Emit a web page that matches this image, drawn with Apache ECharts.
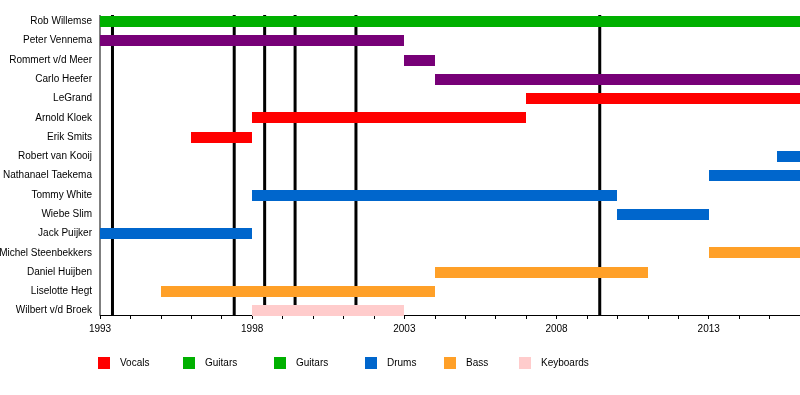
<!DOCTYPE html>
<html>
<head>
<meta charset="utf-8">
<script src="https://cdn.jsdelivr.net/npm/echarts@6/dist/echarts.min.js"></script>
<style>html,body{margin:0;padding:0;background:#fff}#chart{width:800px;height:395px}</style>
</head>
<body>
<div id="chart"></div>
<script>
// ---- data ----
const members = ['Rob Willemse','Peter Vennema','Rommert v/d Meer','Carlo Heefer','LeGrand','Arnold Kloek','Erik Smits','Robert van Kooij','Nathanael Taekema','Tommy White','Wiebe Slim','Jack Puijker','Michel Steenbekkers','Daniel Huijben','Liselotte Hegt','Wilbert v/d Broek'];
const vocals = [['LeGrand',2007,2016],['Arnold Kloek',1998,2007],['Erik Smits',1996,1998]];
const guitars = [['Rob Willemse',1993,2016]];
const leadGuitars = [['Peter Vennema',1993,2003],['Rommert v/d Meer',2003,2004],['Carlo Heefer',2004,2016]];
const drums = [['Robert van Kooij',2015.25,2016],['Nathanael Taekema',2013,2016],['Tommy White',1998,2010],['Wiebe Slim',2010,2013],['Jack Puijker',1993,1998]];
const bass = [['Michel Steenbekkers',2013,2016],['Daniel Huijben',2004,2011],['Liselotte Hegt',1995,2004]];
const keyboards = [['Wilbert v/d Broek',1998,2003]];
const albums = [1993.41, 1997.41, 1998.41, 1999.41, 2001.41, 2009.42];
const yearMin = 1993, yearMax = 2016;
const legendNames = ['Vocals','Guitars','Guitars ','Drums','Bass','Keyboards'];

// ---- styles ----
const FONT = "'Liberation Sans', Arial, sans-serif";
const colors = {Vocals:'#ff0000', Guitars:'#00b000', 'Guitars ':'#770077', Drums:'#0066cc', Bass:'#ffa028', Keyboards:'#ffcccc'};
const legendIcon = {Vocals:'#ff0000', Guitars:'#00b000', 'Guitars ':'#00b000', Drums:'#0066cc', Bass:'#ffa028', Keyboards:'#ffcccc'};
const legendLeft = [98, 183, 274, 365, 444, 519];

function toRows(list){ return list.map(r => [members.indexOf(r[0]), r[1], r[2]]); }

function barRender(params, api){
  const cat = api.value(0);
  const s = api.coord([api.value(1), cat]);
  const e = api.coord([api.value(2), cat]);
  const band = api.size([0,1])[1];
  const h = Math.round(band * 0.57);
  const y = Math.round(s[1] - h/2 + 0.2);
  const x0 = Math.round(s[0]), x1 = Math.round(e[0]);
  return {type:'rect', shape:{x:x0, y:y, width:x1-x0, height:h}, style:{fill: api.visual('color')}};
}

function lineRender(params, api){
  const band = api.size([0,1])[1];
  const top = api.coord([yearMin, 0])[1] - 0.33*band;
  const bot = api.coord([yearMin, members.length-1])[1] + 0.23*band;
  const x = api.coord([api.value(0), 0])[0];
  const w = api.value(1);
  return {type:'line', shape:{x1:x, y1:Math.round(top), x2:x, y2:Math.round(bot)}, style:{stroke:'#000', lineWidth:w}};
}

const groups = [['Vocals',vocals],['Guitars',guitars],['Guitars ',leadGuitars],['Drums',drums],['Bass',bass],['Keyboards',keyboards]];

const series = groups.map(g => ({
  type:'custom', name:g[0], renderItem:barRender, z:3, silent:true,
  itemStyle:{color:colors[g[0]]},
  encode:{x:[1,2], y:0},
  data: toRows(g[1])
}));
series.push({
  type:'custom', name:'albums', renderItem:lineRender, z:1, silent:true,
  encode:{x:0, y:-1},
  data: albums.map(a => [a, 3]).concat([[yearMin + 0.0, 1]])
});

const legends = legendNames.map((n, i) => ({
  data:[{name:n, itemStyle:{color:legendIcon[n]}}],
  left: legendLeft[i], top: 357, padding:0,
  icon:'rect', itemWidth:12, itemHeight:12,
  selectedMode:false,
  textStyle:{fontFamily:FONT, fontSize:10, color:'#000', padding:[0,0,0,5], lineHeight:12}
}));

const chart = echarts.init(document.getElementById('chart'), null, {renderer:'canvas'});
chart.setOption({
  animation:false,
  backgroundColor:'#fff',
  textStyle:{fontFamily:FONT},
  grid:{left:100, right:0, top:11.7, height:308.6, containLabel:false, outerBoundsMode:'none'},
  legend: legends,
  xAxis:{
    type:'value', min:yearMin, max:yearMax, interval:1, offset:-5.3,
    axisLine:{show:true, lineStyle:{color:'#000', width:1}},
    axisTick:{show:true, length:4, lineStyle:{color:'#000'}},
    splitLine:{show:false},
    axisLabel:{fontFamily:FONT, fontSize:10, color:'#000', margin:9,
      formatter: v => ((v - yearMin) % 5 === 0 ? String(v) : '')}
  },
  yAxis:{
    type:'category', data:members, inverse:true,
    axisLine:{show:false}, axisTick:{show:false}, splitLine:{show:false},
    axisLabel:{fontFamily:FONT, fontSize:10, color:'#000', margin:8}
  },
  series: series
});
</script>
</body>
</html>
